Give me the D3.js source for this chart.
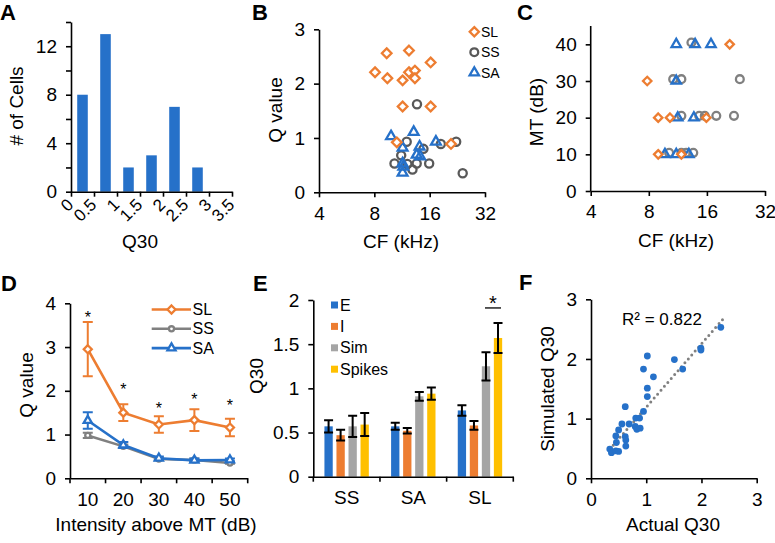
<!DOCTYPE html>
<html><head><meta charset="utf-8">
<script src="https://cdn.jsdelivr.net/npm/d3@7"></script>
<style>
body{margin:0;background:#fff;}
svg text{font-family:"Liberation Sans",Arial,sans-serif;fill:#000;}
</style></head><body>
<svg id="chart" width="775" height="543"></svg>
<script>
// ---------- DATA ----------
// Panel A: histogram of Q30
const histCenters = [0.25, 0.75, 1.25, 1.75, 2.25, 2.75];
const histCounts  = [8, 13, 2, 3, 7, 2];
const histXTicks  = [0, 0.5, 1, 1.5, 2, 2.5, 3, 3.5];
const histYTicks  = [0, 2, 4, 6, 8, 10, 12, 14];

// Panel B: Q value vs CF
const bSLcf = [9.34, 12.35, 8.07, 9.42, 12.35, 13.3, 11.4, 13.3, 16.2, 11.4, 16.2, 10.6, 20.9];
const bSLq  = [2.56, 2.61, 2.21, 2.10, 2.21, 2.24, 2.06, 2.10, 2.39, 1.58, 1.58, 0.92, 0.89];
const bSScf = [13.65, 12.0, 11.2, 10.3, 12.1, 13.6, 12.9, 14.8, 15.9, 18.4, 22.3, 24.2];
const bSSq  = [1.62, 0.93, 0.68, 0.53, 0.52, 0.53, 0.42, 0.80, 0.53, 0.89, 0.93, 0.35];
const bSAcf = [9.86, 13.1, 11.4, 14.1, 13.6, 14.2, 17.3, 11.4, 11.5, 11.4];
const bSAq  = [1.03, 1.11, 0.82, 0.84, 0.69, 0.66, 0.93, 0.53, 0.47, 0.36];
const cfTicks = [4, 8, 16, 32];
const qTicksB = [0, 1, 2, 3];
const groupNames = ["SL", "SS", "SA"];

// Panel C: MT vs CF
const cSLcf = [21.0, 7.85, 8.95, 10.3, 15.9, 8.95, 11.8];
const cSLmt = [40, 30, 20, 20, 20, 10, 10];
const cSScf = [13.3, 10.7, 11.8, 23.7, 11.8, 14.6, 15.6, 17.9, 22.1, 10.2, 11.8, 12.5, 13.6];
const cSSmt = [40.5, 30.5, 30.5, 30.5, 20.5, 20.5, 20.5, 20.5, 20.5, 10.4, 10.4, 10.4, 10.4];
const cSAcf = [11.1, 13.9, 16.8, 11.1, 11.3, 13.7, 9.7, 11.1, 12.9];
const cSAmt = [40, 40, 40, 30, 20, 20, 10, 10, 10];
const mtTicks = [0, 10, 20, 30, 40];

// Panel D: Q value vs intensity above MT
const intensities = [10, 20, 30, 40, 50];
const dSLmean = [2.95, 1.50, 1.23, 1.33, 1.16];
const dSLsem  = [0.62, 0.19, 0.19, 0.25, 0.20];
const dSSmean = [0.98, 0.73, 0.44, 0.42, 0.35];
const dSSsem  = [0.06, 0.04, 0.03, 0.03, 0.02];
const dSAmean = [1.32, 0.76, 0.46, 0.41, 0.42];
const dSAsem  = [0.19, 0.07, 0.04, 0.04, 0.03];
const dStarY  = [3.78, 2.13, 1.70, 1.90, 1.75];
const qTicksD = [0, 1, 2, 3, 4];

// Panel E: Q30 by group
const eGroups = ["SS", "SA", "SL"];
const eKeys = ["E", "I", "Sim", "Spikes"];
const eE      = [0.57, 0.57, 0.75];
const eEerr   = [0.07, 0.04, 0.06];
const eI      = [0.47, 0.52, 0.58];
const eIerr   = [0.06, 0.03, 0.05];
const eSim    = [0.57, 0.91, 1.25];
const eSimErr = [0.12, 0.05, 0.16];
const eSpk    = [0.59, 0.94, 1.57];
const eSpkErr = [0.13, 0.07, 0.17];
const eTicks  = [0, 0.5, 1, 1.5, 2];

// Panel F: simulated vs actual Q30
const fActual = [0.34, 0.37, 0.45, 0.50, 0.46, 0.45, 0.50, 0.56, 0.62, 0.62, 0.63, 0.63, 0.69, 0.80, 0.81, 0.83, 0.89, 0.88, 0.95, 0.95, 1.02, 1.02, 1.02, 1.13, 1.51, 1.66, 1.99, 1.99, 2.35];
const fSim    = [0.49, 0.43, 0.46, 0.45, 0.60, 0.71, 0.81, 0.91, 1.20, 0.70, 0.64, 0.54, 0.91, 0.87, 1.01, 0.82, 0.84, 1.01, 1.12, 1.83, 2.05, 1.51, 1.37, 1.70, 1.99, 1.83, 2.18, 2.15, 2.53];
const trendSlope = 1.063, trendIntercept = 0.128, trendRange = [0.34, 2.40];
const fTicks = [0, 1, 2, 3];

// ---------- STYLE ----------
const BLUE = "#2671C9", ORANGE = "#ED7D31", DGREY = "#595959", GREY = "#808080", LGREY = "#A5A5A5", GOLD = "#FFC000";
const TICK_FS = 19, TITLE_FS = 19;
const svg = d3.select("#chart");
const plain = d => String(d);

function styleAxis(g) {
  g.select(".domain").attr("stroke", "#000").attr("stroke-width", 1.6);
  g.selectAll(".tick line").attr("stroke", "#000").attr("stroke-width", 1.6);
  g.selectAll("text").attr("font-size", TICK_FS).attr("fill", "#000");
  return g;
}
function yAxis(scale, x, ticks, fmt) {
  const a = d3.axisLeft(scale).tickValues(ticks).tickSize(5).tickPadding(9).tickSizeOuter(0).tickFormat(fmt || plain);
  return styleAxis(svg.append("g").attr("transform", `translate(${x},0)`).call(a));
}
function xAxis(scale, y, ticks, fmt) {
  const a = d3.axisBottom(scale).tickValues(ticks).tickSize(5).tickPadding(9).tickSizeOuter(0).tickFormat(fmt || plain);
  return styleAxis(svg.append("g").attr("transform", `translate(0,${y})`).call(a));
}
function title(text, x, y, rot) {
  const t = svg.append("text").attr("font-size", TITLE_FS).attr("text-anchor", "middle").text(text);
  if (rot) t.attr("transform", `translate(${x},${y}) rotate(-90)`).attr("dy", "0.35em");
  else t.attr("x", x).attr("y", y);
}
function panelLabel(text, x, y) {
  svg.append("text").attr("x", x).attr("y", y).attr("font-size", 22).attr("font-weight", "bold").text(text);
}
const diamondPath = r => `M0,${-r}L${r},0L0,${r}L${-r},0Z`;
function marker(g, type, x, y, color, size) {
  let el;
  if (type === "SL") el = g.append("path").attr("d", diamondPath(size));
  else if (type === "SS") el = g.append("circle").attr("r", size * 0.85);
  else el = g.append("path").attr("d", d3.symbol(d3.symbolTriangle, size * size * 1.8)());
  el.attr("transform", `translate(${x},${y})`).attr("fill", "#fff").attr("fill-opacity", type === "SL" ? 1 : 0)
    .attr("stroke", color).attr("stroke-width", 2.3);
  return el;
}

// ---------- PANEL A ----------
{
  const x = d3.scaleLinear([0, 3.5], [71, 232]);
  const y = d3.scaleLinear([0, 14], [191.7, 22]);
  const w = x(0.23) - x(0);
  svg.append("g").selectAll("rect").data(histCenters).join("rect")
    .attr("x", (d) => x(d) - w / 2).attr("width", w)
    .attr("y", (d, i) => y(histCounts[i])).attr("height", (d, i) => y(0) - y(histCounts[i]))
    .attr("fill", BLUE);
  yAxis(y, 71, histYTicks, d => d % 4 === 0 ? String(d) : "");
  const gx = xAxis(x, 191.7, histXTicks);
  gx.selectAll("text").attr("y", 0).attr("dy", "0").attr("text-anchor", "end").attr("font-size", 17)
    .attr("transform", "translate(3,14) rotate(-45)");
  title("Q30", 140, 248);
  title("# of Cells", 16, 106, true);
  panelLabel("A", 0, 20);
}

// ---------- PANEL B ----------
{
  const x = d3.scaleLog().base(2).domain([4, 32]).range([319, 485]);
  const y = d3.scaleLinear([0, 3], [192.3, 29.3]);
  const g = svg.append("g");
  bSScf.forEach((c, i) => marker(g, "SS", x(c), y(bSSq[i]), DGREY, 4.8));
  bSAcf.forEach((c, i) => marker(g, "SA", x(c), y(bSAq[i]), BLUE, 4.8));
  bSLcf.forEach((c, i) => marker(g, "SL", x(c), y(bSLq[i]), ORANGE, 4.8));
  yAxis(y, 319, qTicksB);
  xAxis(x, 192.3, cfTicks);
  title("CF (kHz)", 401, 248);
  title("Q value", 275, 110, true);
  panelLabel("B", 252, 20);
  // legend
  const cols = { SL: ORANGE, SS: DGREY, SA: BLUE };
  groupNames.forEach((n, i) => {
    const yy = 31.7 + i * 20.5;
    marker(svg, n, 474.3, yy, cols[n], 4.6);
    svg.append("text").attr("x", 481).attr("y", yy).attr("dy", "0.35em").attr("font-size", 14).text(n);
  });
}

// ---------- PANEL C ----------
{
  const x = d3.scaleLog().base(2).domain([4, 32]).range([590.7, 765]);
  const y = d3.scaleLinear([0, 45], [191, 26]);
  const g = svg.append("g");
  cSScf.forEach((c, i) => marker(g, "SS", x(c), y(cSSmt[i]), GREY, 4.6));
  cSAcf.forEach((c, i) => marker(g, "SA", x(c), y(cSAmt[i]), BLUE, 4.6));
  cSLcf.forEach((c, i) => marker(g, "SL", x(c), y(cSLmt[i]), ORANGE, 4.2));
  const gy = yAxis(y, 590.7, mtTicks);
  gy.select(".domain").attr("d", `M0,${y(45)}V${y(0)}`);
  xAxis(x, 191, cfTicks);
  title("CF (kHz)", 676, 247);
  title("MT (dB)", 536, 112, true);
  panelLabel("C", 517, 20);
}

// ---------- PANEL D ----------
{
  const x = d3.scaleBand(intensities, [70, 247.7]);
  const y = d3.scaleLinear([0, 4], [478.3, 303.3]);
  const cx = d => x(d) + x.bandwidth() / 2;
  const series = [
    { key: "SS", mean: dSSmean, sem: dSSsem, color: GREY },
    { key: "SA", mean: dSAmean, sem: dSAsem, color: BLUE },
    { key: "SL", mean: dSLmean, sem: dSLsem, color: ORANGE }
  ];
  const line = d3.line().x((d, i) => cx(intensities[i])).y(d => y(d));
  series.forEach(s => {
    const g = svg.append("g");
    g.append("path").attr("d", line(s.mean)).attr("fill", "none").attr("stroke", s.color).attr("stroke-width", 2.6);
    s.mean.forEach((m, i) => {
      const xx = cx(intensities[i]);
      g.append("path").attr("d", `M${xx},${y(m - s.sem[i])}V${y(m + s.sem[i])}M${xx - 5},${y(m - s.sem[i])}H${xx + 5}M${xx - 5},${y(m + s.sem[i])}H${xx + 5}`)
        .attr("stroke", s.color).attr("stroke-width", 2).attr("fill", "none");
      const mk = marker(g, s.key, xx, y(m), s.color, s.key === "SS" ? 3 : 4);
      mk.attr("fill-opacity", 1);
    });
  });
  dStarY.forEach((v, i) => svg.append("text").attr("x", cx(intensities[i])).attr("y", y(v)).attr("dy", "0.6em")
    .attr("text-anchor", "middle").attr("font-size", 16).text("*"));
  yAxis(y, 70, qTicksD);
  const gx = xAxis(x, 478.3, intensities);
  gx.selectAll(".tick line").remove();
  gx.selectAll("text").attr("y", 14);
  const bounds = intensities.map(d => x(d)).concat([x.range()[1]]);
  gx.selectAll(".bt").data(bounds).join("line").attr("x1", d => d).attr("x2", d => d).attr("y1", 0).attr("y2", 5)
    .attr("stroke", "#000").attr("stroke-width", 1.6);
  // legend
  const legend = [{ key: "SL", color: ORANGE }, { key: "SS", color: GREY }, { key: "SA", color: BLUE }];
  legend.forEach((l, i) => {
    const yy = 309.5 + i * 19.3;
    svg.append("line").attr("x1", 151.7).attr("x2", 191).attr("y1", yy).attr("y2", yy).attr("stroke", l.color).attr("stroke-width", 2.6);
    marker(svg, l.key, 171.5, yy, l.color, l.key === "SS" ? 3 : 4).attr("fill-opacity", 1);
    svg.append("text").attr("x", 192.5).attr("y", yy).attr("dy", "0.35em").attr("font-size", 16).text(l.key);
  });
  title("Intensity above MT (dB)", 156, 531);
  title("Q value", 26, 385, true);
  panelLabel("D", 1, 291);
}

// ---------- PANEL E ----------
{
  const x = d3.scaleBand(eGroups, [313.3, 513.3]);
  const y = d3.scaleLinear([0, 2], [476.7, 300]);
  const half = 22.2;
  const xi = d3.scaleBand(eKeys, [x.bandwidth() / 2 - half, x.bandwidth() / 2 + half]).paddingInner(0.31);
  const vals = { E: [eE, eEerr, BLUE], I: [eI, eIerr, ORANGE], Sim: [eSim, eSimErr, LGREY], Spikes: [eSpk, eSpkErr, GOLD] };
  const g = svg.append("g");
  eGroups.forEach((grp, gi) => {
    eKeys.forEach(k => {
      const [v, e, c] = vals[k];
      const bx = x(grp) + xi(k);
      g.append("rect").attr("x", bx).attr("width", xi.bandwidth()).attr("y", y(v[gi])).attr("height", y(0) - y(v[gi])).attr("fill", c);
    });
  });
  eGroups.forEach((grp, gi) => {
    eKeys.forEach(k => {
      const [v, e] = vals[k];
      const xx = x(grp) + xi(k) + xi.bandwidth() / 2;
      g.append("path").attr("d", `M${xx},${y(v[gi] - e[gi])}V${y(v[gi] + e[gi])}M${xx - 4.5},${y(v[gi] - e[gi])}H${xx + 4.5}M${xx - 4.5},${y(v[gi] + e[gi])}H${xx + 4.5}`)
        .attr("stroke", "#000").attr("stroke-width", 2).attr("fill", "none");
    });
  });
  // significance bar between Sim and Spikes of SL
  const x1 = x("SL") + xi("Sim") + xi.bandwidth() / 2 - 1, x2 = x("SL") + xi("Spikes") + xi.bandwidth() / 2 + 3;
  svg.append("line").attr("x1", x1).attr("x2", x2).attr("y1", y(1.91)).attr("y2", y(1.91)).attr("stroke", "#000").attr("stroke-width", 1.3);
  svg.append("text").attr("x", (x1 + x2) / 2).attr("y", y(1.91)).attr("dy", "0.1em").attr("text-anchor", "middle").attr("font-size", 20).text("*");
  yAxis(y, 313.3, eTicks);
  const gx = xAxis(x, 476.7, eGroups);
  gx.selectAll(".tick line").remove();
  gx.selectAll("text").attr("font-size", 19).attr("y", 14);
  const bounds = eGroups.map(d => x(d)).concat([x.range()[1]]);
  gx.selectAll(".bt").data(bounds).join("line").attr("x1", d => d).attr("x2", d => d).attr("y1", 0).attr("y2", 5)
    .attr("stroke", "#000").attr("stroke-width", 1.6);
  // legend
  eKeys.forEach((k, i) => {
    const yy = 305 + i * 21.4;
    svg.append("rect").attr("x", 331).attr("y", yy - 3.5).attr("width", 7).attr("height", 7).attr("fill", vals[k][2]);
    svg.append("text").attr("x", 340).attr("y", yy).attr("dy", "0.35em").attr("font-size", 16).text(k);
  });
  title("Q30", 256, 376, true);
  panelLabel("E", 253, 291);
}

// ---------- PANEL F ----------
{
  const x = d3.scaleLinear([0, 3], [591, 756.7]);
  const y = d3.scaleLinear([0, 3], [478.3, 299.3]);
  svg.append("line")
    .attr("x1", x(trendRange[0])).attr("y1", y(trendSlope * trendRange[0] + trendIntercept))
    .attr("x2", x(trendRange[1])).attr("y2", y(trendSlope * trendRange[1] + trendIntercept))
    .attr("stroke", GREY).attr("stroke-width", 3).attr("stroke-linecap", "round").attr("stroke-dasharray", "0,5.2");
  svg.append("g").selectAll("circle").data(fActual).join("circle")
    .attr("cx", d => x(d)).attr("cy", (d, i) => y(fSim[i])).attr("r", 3.4).attr("fill", BLUE);
  yAxis(y, 591, fTicks);
  xAxis(x, 478.3, fTicks);
  svg.append("text").attr("x", 622).attr("y", 325).attr("font-size", 17).text("R² = 0.822");
  title("Actual Q30", 673, 531);
  title("Simulated Q30", 547, 389, true);
  panelLabel("F", 519, 290);
}
</script>
</body></html>
